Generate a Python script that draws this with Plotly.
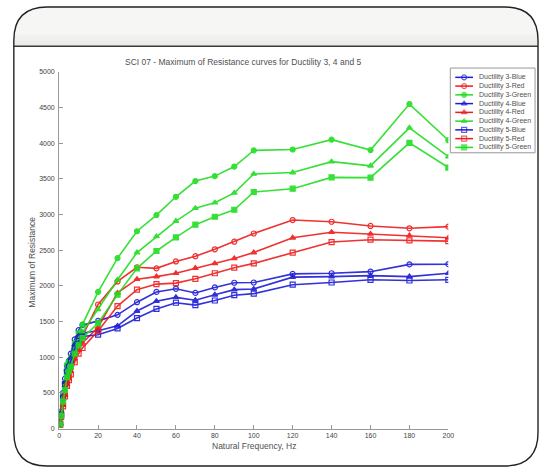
import plotly.graph_objects as go

W, H = 545, 470

# ---------------- data ----------------
freq = [0.5, 1, 2, 3, 4, 5, 6, 8, 10, 12, 20, 30, 40, 50, 60, 70, 80, 90, 100, 120, 140, 160, 180, 200]

d3_blue = [80, 240, 500, 700, 880, 950, 1050, 1250, 1380, 1450, 1510, 1595, 1772, 1916, 1960, 1902, 1979, 2045, 2048, 2169, 2178, 2200, 2302, 2305]
d3_red = [60, 180, 350, 500, 650, 750, 850, 1050, 1180, 1300, 1740, 2063, 2262, 2247, 2343, 2417, 2514, 2620, 2735, 2924, 2900, 2841, 2808, 2831]
d3_green = [80, 230, 480, 650, 900, 950, 1000, 1200, 1340, 1460, 1916, 2390, 2767, 2993, 3250, 3470, 3540, 3674, 3900, 3913, 4051, 3905, 4550, 4043]
d4_blue = [70, 220, 460, 650, 830, 900, 990, 1180, 1300, 1340, 1372, 1440, 1648, 1786, 1840, 1800, 1875, 1948, 1957, 2123, 2131, 2145, 2131, 2178]
d4_red = [55, 170, 330, 470, 620, 700, 800, 980, 1100, 1200, 1420, 1902, 2095, 2131, 2178, 2250, 2316, 2385, 2468, 2675, 2753, 2730, 2707, 2675]
d4_green = [70, 200, 430, 600, 820, 880, 950, 1120, 1250, 1350, 1671, 2086, 2468, 2693, 2910, 3090, 3167, 3305, 3570, 3590, 3743, 3684, 4217, 3812]
d5_blue = [65, 200, 430, 620, 800, 860, 940, 1120, 1230, 1290, 1316, 1404, 1550, 1678, 1764, 1731, 1796, 1870, 1892, 2017, 2048, 2086, 2076, 2086]
d5_red = [50, 160, 310, 450, 600, 680, 760, 930, 1050, 1130, 1370, 1717, 1948, 2026, 2040, 2100, 2178, 2256, 2316, 2468, 2615, 2648, 2638, 2628]
d5_green = [60, 180, 380, 540, 720, 800, 870, 1050, 1170, 1270, 1478, 1878, 2247, 2490, 2680, 2859, 2970, 3068, 3317, 3363, 3522, 3518, 4006, 3660]

names = ["Ductility 3-Blue", "Ductility 3-Red", "Ductility 3-Green",
         "Ductility 4-Blue", "Ductility 4-Red", "Ductility 4-Green",
         "Ductility 5-Blue", "Ductility 5-Red", "Ductility 5-Green"]
series = [d3_blue, d3_red, d3_green, d4_blue, d4_red, d4_green, d5_blue, d5_red, d5_green]

x_ticks = list(range(0, 201, 20))
y_ticks = list(range(0, 5001, 500))

title_text = "SCI 07 - Maximum of Resistance curves for Ductility 3, 4 and 5"
x_title = "Natural Frequency, Hz"
y_title = "Maximum of Resistance"

# ---------------- styles ----------------
BLUE, RED, GREEN = "#1c1cd6", "#ee1c1c", "#22dd22"
colors = [BLUE, RED, GREEN] * 3
symbols = ["circle-open"] * 2 + ["circle"] + ["triangle-up"] * 3 + ["square-open"] * 2 + ["square"]

# plot area in pixels
L, R, T, B = 58, 453, 69, 431

fig = go.Figure()

for nm, ys, c, s in zip(names, series, colors, symbols):
    fig.add_trace(go.Scatter(
        x=freq, y=ys, mode="lines+markers", name=nm,
        line=dict(color=c, width=1.6),
        marker=dict(symbol=s, size=5, color=c, line=dict(color=c, width=1.2)),
        opacity=0.9, showlegend=False, xaxis="x", yaxis="y"))

# ---------------- manual legend (pixel overlay axis) ----------------
LX0, LX1, LY0, LY1 = 455, 541, 65, 151
step = (LY1 - LY0 - 6) / len(names)
for i, (nm, c, s) in enumerate(zip(names, colors, symbols)):
    yy = LY0 + 6 + step * (i + 0.5) - 1
    fig.add_trace(go.Scatter(
        x=[460, 469, 478], y=[yy, yy, yy], mode="lines+markers",
        line=dict(color=c, width=1.5),
        marker=dict(symbol=s, size=[0, 5, 0], color=c, line=dict(color=c, width=1.2)),
        showlegend=False, xaxis="x2", yaxis="y2", hoverinfo="skip"))

def xp(px):
    return px / W

def yp(py):
    return 1 - py / H

shapes = []
r = 34
x0, x1, y0, y1, yh = 12, 544, 3, 469, 43
hdr = (f"M {xp(x0)} {yp(yh)} L {xp(x0)} {yp(y0 + r)} Q {xp(x0)} {yp(y0)} {xp(x0 + r)} {yp(y0)} "
       f"L {xp(x1 - r)} {yp(y0)} Q {xp(x1)} {yp(y0)} {xp(x1)} {yp(y0 + r)} L {xp(x1)} {yp(yh)} Z")
shapes.append(dict(type="path", path=hdr, xref="paper", yref="paper",
                   fillcolor="#f6f6f4", line=dict(width=0), layer="below"))
for k, col in enumerate(["#f1f1ef", "#ececea"]):
    shapes.append(dict(type="rect", xref="paper", yref="paper",
                       x0=xp(x0 + 1), x1=xp(x1 - 1), y0=yp(yh), y1=yp(yh - 12 + 6 * k),
                       fillcolor=col, line=dict(width=0), layer="below"))
shapes.append(dict(type="line", xref="paper", yref="paper", x0=xp(x0), x1=xp(x1),
                   y0=yp(yh), y1=yp(yh), line=dict(color="#3a3a3a", width=1.5)))
frame = (f"M {xp(x0 + r)} {yp(y0)} L {xp(x1 - r)} {yp(y0)} Q {xp(x1)} {yp(y0)} {xp(x1)} {yp(y0 + r)} "
         f"L {xp(x1)} {yp(y1 - r)} Q {xp(x1)} {yp(y1)} {xp(x1 - r)} {yp(y1)} "
         f"L {xp(x0 + r)} {yp(y1)} Q {xp(x0)} {yp(y1)} {xp(x0)} {yp(y1 - r)} "
         f"L {xp(x0)} {yp(y0 + r)} Q {xp(x0)} {yp(y0)} {xp(x0 + r)} {yp(y0)} Z")
shapes.append(dict(type="path", path=frame, xref="paper", yref="paper",
                   line=dict(color="#222222", width=1.4)))
shapes.append(dict(type="rect", xref="paper", yref="paper",
                   x0=xp(LX0), x1=xp(LX1), y0=yp(LY1), y1=yp(LY0),
                   fillcolor="white", line=dict(color="#999999", width=1), layer="below"))

FONT = "Liberation Sans, Arial, sans-serif"
annotations = [
    dict(text=title_text, x=xp(245), y=yp(59), xref="paper", yref="paper", showarrow=False,
         font=dict(family=FONT, size=8.5, color="#505050"), xanchor="center", yanchor="middle"),
    dict(text=x_title, x=xp(256), y=yp(449), xref="paper", yref="paper", showarrow=False,
         font=dict(family=FONT, size=8.5, color="#505050"), xanchor="center", yanchor="middle"),
    dict(text=y_title, x=xp(31), y=yp(262), xref="paper", yref="paper", showarrow=False, textangle=-90,
         font=dict(family=FONT, size=8.5, color="#505050"), xanchor="center", yanchor="middle"),
]
for i, nm in enumerate(names):
    yy = LY0 + 6 + step * (i + 0.5) - 1
    annotations.append(dict(text=nm, x=xp(482), y=yp(yy), xref="paper", yref="paper", showarrow=False,
                            font=dict(family=FONT, size=7, color="#505050"),
                            xanchor="left", yanchor="middle"))

axis_common = dict(showline=True, linecolor="#999999", linewidth=1, ticks="inside", ticklen=4,
                   tickcolor="#999999", showgrid=False, zeroline=False,
                   tickfont=dict(family=FONT, size=7, color="#444444"))

fig.update_layout(
    width=W, height=H, margin=dict(l=0, r=0, t=0, b=0),
    paper_bgcolor="white", plot_bgcolor="rgba(0,0,0,0)",
    showlegend=False,
    xaxis=dict(domain=[L / W, R / W], range=[0, 200], tickvals=x_ticks, anchor="y", **axis_common),
    yaxis=dict(domain=[1 - B / H, 1 - T / H], range=[0, 5000], tickvals=y_ticks, anchor="x",
               ticklabelstandoff=2, **axis_common),
    xaxis2=dict(domain=[0, 1], range=[0, W], visible=False, anchor="y2"),
    yaxis2=dict(domain=[0, 1], range=[H, 0], visible=False, anchor="x2"),
    shapes=shapes, annotations=annotations,
)

fig.write_html("out.html", config={"displayModeBar": False},
               post_script="document.body.style.margin='0';document.body.style.overflow='hidden';")
